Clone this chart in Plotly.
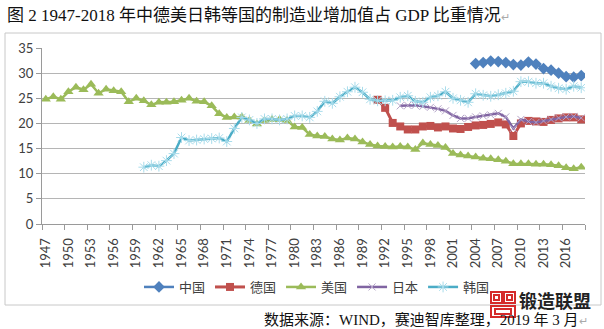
import plotly.graph_objects as go

# ---- data: manufacturing value added as % of GDP ----
years = list(range(1947, 2019))

china_years = list(range(2004, 2019))
china = [31.9, 32.1, 32.4, 32.3, 32.1, 31.7, 31.6, 32.2, 31.8, 30.9,
         30.6, 30.0, 29.3, 29.2, 29.5]

germany_years = list(range(1991, 2019))
germany = [24.7, 23.1, 20.1, 19.4, 18.8, 18.8, 19.4, 19.5, 19.2, 19.4,
           19.0, 18.9, 19.3, 19.6, 19.7, 19.9, 20.2, 19.8, 17.5, 20.0,
           20.5, 20.4, 20.3, 20.7, 21.0, 21.2, 21.2, 20.8]

us = [24.8, 25.3, 24.8, 26.3, 27.2, 26.7, 27.8, 26.0, 26.8, 26.5,
      26.3, 24.3, 25.0, 24.5, 23.7, 24.2, 24.2, 24.3, 24.6, 25.0,
      24.4, 24.3, 23.5, 21.9, 21.2, 21.3, 21.3, 20.6, 19.9, 20.6,
      20.8, 20.8, 20.6, 19.3, 19.2, 17.8, 17.5, 17.4, 16.9, 16.7,
      17.1, 16.9, 16.3, 15.8, 15.5, 15.4, 15.3, 15.4, 15.3, 14.8,
      16.1, 15.8, 15.6, 15.2, 14.0, 13.7, 13.5, 13.3, 13.1, 13.0,
      12.8, 12.5, 12.0, 12.0, 12.0, 11.9, 11.9, 11.8, 11.6, 11.2,
      11.0, 11.3]

japan_years = list(range(1994, 2019))
japan = [23.5, 23.6, 23.6, 23.4, 23.2, 22.9, 22.5, 21.6, 21.0, 21.0,
         21.3, 21.5, 21.7, 22.0, 21.3, 19.0, 20.8, 20.4, 20.2, 20.5,
         20.8, 21.1, 21.3, 21.4, 21.1]

korea_years = list(range(1960, 2019))
korea = [11.3, 11.7, 11.5, 12.6, 14.0, 17.2, 16.6, 16.7, 16.9, 17.0,
         17.1, 16.4, 19.0, 21.2, 20.7, 20.0, 20.9, 20.9, 20.7, 20.9,
         21.5, 21.5, 21.2, 22.4, 24.4, 24.0, 25.3, 26.3, 27.2, 26.2,
         24.8, 24.5, 24.5, 24.6, 25.2, 25.5, 24.4, 24.2, 25.2, 25.5,
         26.3, 25.0, 24.6, 24.2, 25.9, 25.6, 25.4, 25.7, 26.0, 26.4,
         28.3, 28.3, 28.0, 28.0, 27.4, 27.0, 26.8, 27.4, 27.1]

label_years = list(range(1947, 2019, 3))
y_ticks = [0, 5, 10, 15, 20, 25, 30, 35]

title_text = "图 2 1947-2018 年中德美日韩等国的制造业增加值占 GDP 比重情况"
source_text = "数据来源：WIND，赛迪智库整理，2019 年 3 月"
logo_text = "锻造联盟"

# ---- geometry helpers (pixel -> paper) ----
W, H = 604, 329
L, R, T, B = 42, 19, 48, 105
PW, PH = W - L - R, H - T - B


def px(x):
    return (x - L) / PW


def py(y):
    return (H - B - y) / PH


CJK = "Noto Sans CJK SC"
SERIF = "Liberation Serif, Noto Sans CJK SC"
AXIS_FONT = dict(family="Lato, Noto Sans", size=13, color="#404040")

fig = go.Figure()

fig.add_trace(go.Scatter(
    x=china_years, y=china, name="中国", mode="lines+markers",
    line=dict(color="#4F81BD", width=2.5),
    marker=dict(symbol="diamond", size=9, color="#4F81BD"),
))
fig.add_trace(go.Scatter(
    x=germany_years, y=germany, name="德国", mode="lines+markers",
    line=dict(color="#C0504D", width=3),
    marker=dict(symbol="square", size=8, color="#C0504D"),
))
fig.add_trace(go.Scatter(
    x=years, y=us, name="美国", mode="lines+markers",
    line=dict(color="#9BBB59", width=2.5),
    marker=dict(symbol="triangle-up", size=9, color="#9BBB59"),
))
fig.add_trace(go.Scatter(
    x=japan_years, y=japan, name="日本", mode="lines+markers",
    line=dict(color="#8064A2", width=2.5),
    marker=dict(symbol="x-thin-open", size=7, color="#B3A2C7",
                line=dict(width=1, color="#B3A2C7")),
))
fig.add_trace(go.Scatter(
    x=korea_years, y=korea, name="韩国", mode="lines+markers",
    line=dict(color="#4BACC6", width=2.5),
    marker=dict(symbol="asterisk-open", size=9, color="#A8DCEB",
                line=dict(width=1, color="#A8DCEB")),
))

# chart frame
fig.add_shape(type="rect", xref="paper", yref="paper",
              x0=px(5), x1=px(601), y0=py(305), y1=py(33),
              line=dict(color="#C8C8C8", width=1), layer="below")

# logo mark
RED = "#D52B2B"
for (x0, x1, y0, y1) in [(491, 502, 292, 303), (504, 515, 292, 303),
                         (494, 499, 295, 300), (507, 512, 295, 300),
                         (491, 515, 306, 317), (495, 511, 309, 314)]:
    fig.add_shape(type="rect", xref="paper", yref="paper",
                  x0=px(x0), x1=px(x1), y0=py(y1), y1=py(y0),
                  line=dict(color=RED, width=2), layer="above")

fig.add_annotation(
    x=px(5), y=py(16), xref="paper", yref="paper",
    xanchor="left", yanchor="middle", showarrow=False,
    text=title_text + "<span style='color:#aaaaaa;font-size:11px'>↵</span>",
    font=dict(family=SERIF, size=17, color="#111111"),
)
fig.add_annotation(
    x=px(262), y=py(319), xref="paper", yref="paper",
    xanchor="left", yanchor="middle", showarrow=False,
    text=source_text + "<span style='color:#aaaaaa;font-size:11px'>↵</span>",
    font=dict(family=SERIF, size=15, color="#111111"),
)
fig.add_annotation(
    x=px(517), y=py(300), xref="paper", yref="paper",
    xanchor="left", yanchor="middle", showarrow=False,
    text="<b>" + logo_text + "</b>",
    font=dict(family=CJK, size=18, color="#222222"),
)

fig.update_layout(
    width=W, height=H,
    margin=dict(l=L, r=R, t=T, b=B, pad=0),
    paper_bgcolor="white", plot_bgcolor="white",
    showlegend=True,
    legend=dict(orientation="h", x=px(139), y=py(287),
                xanchor="left", yanchor="middle",
                font=dict(family=CJK, size=13, color="#404040"),
                bgcolor="rgba(0,0,0,0)", itemwidth=30),
    xaxis=dict(
        range=[1946.5, 2018.5], tickmode="array", tickvals=label_years,
        ticktext=[str(v) for v in label_years], tickangle=-90,
        ticks="", showgrid=False, zeroline=False,
        showline=True, linecolor="#9a9a9a", linewidth=1,
        tickfont=AXIS_FONT, ticklabelstandoff=8,
        minor=dict(tickvals=[1946.5 + 3 * k for k in range(25)],
                   ticks="outside", ticklen=5, tickcolor="#9a9a9a",
                   showgrid=False),
    ),
    yaxis=dict(
        range=[0, 35], tickmode="array", tickvals=y_ticks,
        ticks="outside", ticklen=5, tickcolor="#9a9a9a",
        showgrid=True, gridcolor="#b5b5b5", gridwidth=1,
        zeroline=False, showline=True, linecolor="#9a9a9a", linewidth=1,
        tickfont=AXIS_FONT,
    ),
)

fig.write_html("out.html")
